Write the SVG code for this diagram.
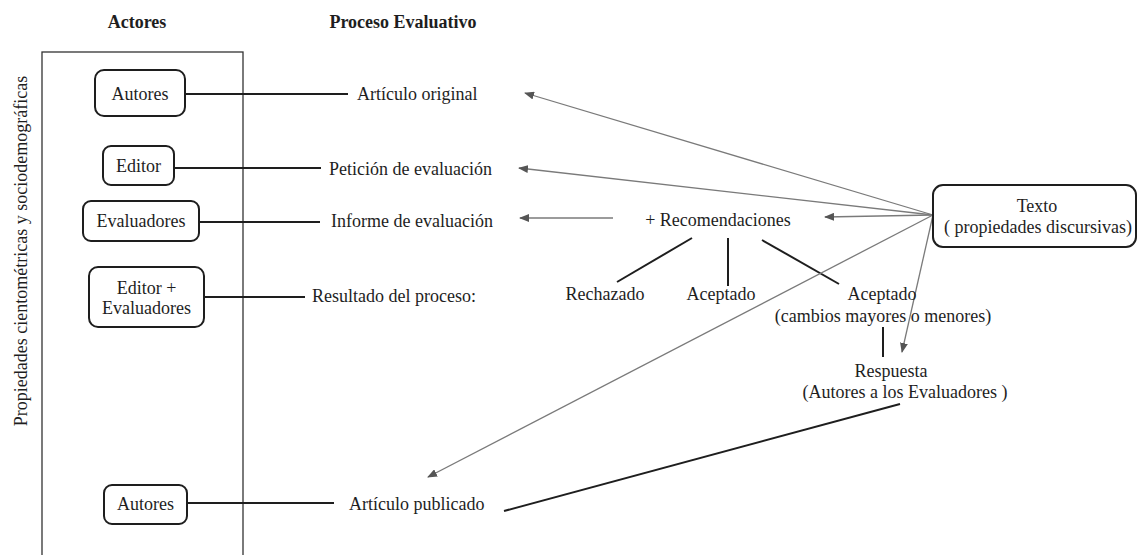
<svg xmlns="http://www.w3.org/2000/svg" width="1138" height="555" viewBox="0 0 1138 555">
  <style>
    text { font-family: "Liberation Serif", "Times New Roman", serif; font-size: 18px; fill: #1e1e1e; }
    .hdr { font-weight: bold; font-size: 18px; }
    .mid { text-anchor: middle; }
    .box { fill: #fff; stroke: #1e1e1e; stroke-width: 2; }
    .frame { fill: none; stroke: #333; stroke-width: 1.3; }
    .link { stroke: #1e1e1e; stroke-width: 2; fill: none; }
    .arrow { stroke: #7a7a7a; stroke-width: 1.3; fill: none; marker-end: url(#ah); }
  </style>
  <defs>
    <marker id="ah" viewBox="0 0 10 8" markerWidth="10" markerHeight="8" refX="9" refY="4" orient="auto" markerUnits="userSpaceOnUse">
      <path d="M0,0 L10,4 L0,8 z" fill="#555"/>
    </marker>
  </defs>
  <rect width="1138" height="555" fill="#fff"/>

  <!-- headers -->
  <text class="hdr mid" x="137" y="28">Actores</text>
  <text class="hdr mid" x="403" y="28">Proceso Evaluativo</text>

  <!-- frame and side label -->
  <rect class="frame" x="42" y="52" width="201" height="510"/>
  <text class="mid" transform="translate(27,251) rotate(-90)">Propiedades cientométricas y sociodemográficas</text>

  <g id="connectors">
    <line class="link" x1="185" y1="94" x2="348" y2="94"/>
    <line class="link" x1="174" y1="168" x2="321" y2="168"/>
    <line class="link" x1="199" y1="222" x2="320" y2="222"/>
    <line class="link" x1="204" y1="297" x2="305" y2="297"/>
    <line class="link" x1="187" y1="503" x2="334" y2="503"/>
    <line class="link" x1="617" y1="282" x2="692" y2="238"/>
    <line class="link" x1="728" y1="238" x2="728" y2="286"/>
    <line class="link" x1="762" y1="240" x2="839" y2="284"/>
    <line class="link" x1="883" y1="327" x2="883" y2="357"/>
    <line class="link" x1="504" y1="511" x2="900" y2="404"/>
    <line class="arrow" x1="933" y1="215" x2="525" y2="93"/>
    <line class="arrow" x1="933" y1="215" x2="519" y2="168"/>
    <line class="arrow" x1="613" y1="218" x2="520" y2="218"/>
    <line class="arrow" x1="933" y1="215" x2="825" y2="217"/>
    <line class="arrow" x1="933" y1="215" x2="428" y2="477"/>
    <line class="arrow" x1="933" y1="215" x2="902" y2="352"/>
  </g>

  <g id="autores1">
    <rect class="box" x="95" y="70" width="90" height="46" rx="9"/>
    <text class="mid" x="140" y="100">Autores</text>
  </g>
  <g id="editor">
    <rect class="box" x="103" y="146" width="71" height="39" rx="8"/>
    <text class="mid" x="138.5" y="172">Editor</text>
  </g>
  <g id="evaluadores">
    <rect class="box" x="83" y="201" width="116" height="40" rx="8"/>
    <text class="mid" x="141" y="227">Evaluadores</text>
  </g>
  <g id="editor-evaluadores">
    <rect class="box" x="89" y="267" width="115" height="60" rx="9"/>
    <text class="mid" x="146.5" y="294">Editor +</text>
    <text class="mid" x="146.5" y="314">Evaluadores</text>
  </g>
  <g id="autores2">
    <rect class="box" x="104" y="485" width="83" height="39" rx="8"/>
    <text class="mid" x="145.5" y="510">Autores</text>
  </g>

  <g id="articulo-original"><text x="357" y="100">Artículo original</text></g>
  <g id="peticion"><text x="329" y="175">Petición de evaluación</text></g>
  <g id="informe"><text x="331" y="227">Informe de evaluación</text></g>
  <g id="resultado"><text x="312" y="302">Resultado del proceso:</text></g>
  <g id="articulo-publicado"><text x="349" y="510">Artículo publicado</text></g>

  <g id="recomendaciones"><text class="mid" x="718" y="226">+ Recomendaciones</text></g>
  <g id="rechazado"><text class="mid" x="605" y="300">Rechazado</text></g>
  <g id="aceptado"><text class="mid" x="721" y="300">Aceptado</text></g>
  <g id="aceptado-cambios">
    <text class="mid" x="882" y="300">Aceptado</text>
    <text class="mid" x="883" y="322">(cambios mayores o menores)</text>
  </g>
  <g id="respuesta">
    <text class="mid" x="891" y="377">Respuesta</text>
    <text class="mid" x="905" y="398">(Autores a los Evaluadores )</text>
  </g>
  <g id="texto">
    <rect class="box" x="933" y="185" width="203" height="62" rx="10"/>
    <text class="mid" x="1037" y="212">Texto</text>
    <text class="mid" x="1038" y="233">( propiedades discursivas)</text>
  </g>
</svg>
